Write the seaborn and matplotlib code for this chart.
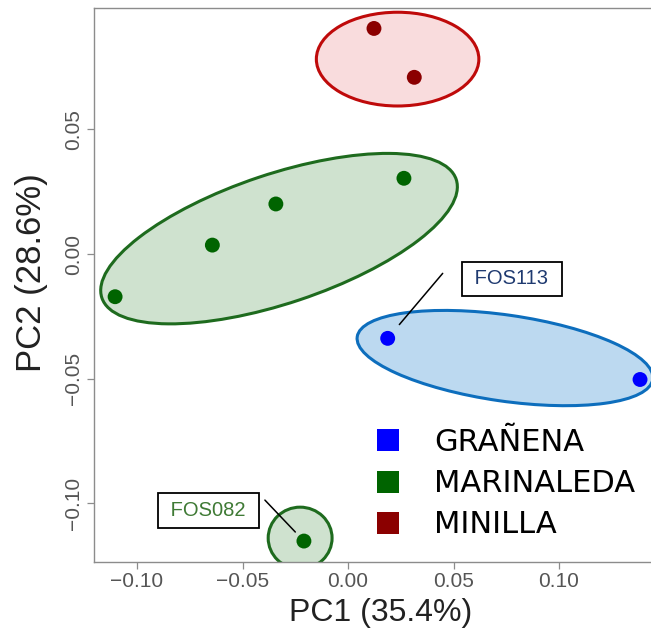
import numpy as np
import pandas as pd
import matplotlib
matplotlib.use("Agg")
import matplotlib.pyplot as plt
import matplotlib.transforms as mtransforms
from matplotlib.patches import Ellipse
from matplotlib.lines import Line2D
import seaborn as sns

# ---------------- data ----------------
sites = ["GRAÑENA", "GRAÑENA",
         "MARINALEDA", "MARINALEDA", "MARINALEDA", "MARINALEDA", "MARINALEDA",
         "MINILLA", "MINILLA"]
pc1 = [0.0188, 0.1384, -0.1104, -0.0643, -0.0342, 0.0265, -0.0209, 0.0123, 0.0314]
pc2 = [-0.0338, -0.0503, -0.0171, 0.0036, 0.0201, 0.0304, -0.1151, 0.0905, 0.0709]
sample_labels = ["FOS113", "", "", "", "", "", "FOS082", "", ""]

legend_order = ["GRAÑENA", "MARINALEDA", "MINILLA"]
x_ticks = [-0.10, -0.05, 0.00, 0.05, 0.10]
y_ticks = [-0.10, -0.05, 0.00, 0.05]

# cluster ellipses (centre in data units)
ell_site = ["MINILLA", "MARINALEDA", "GRAÑENA", "MARINALEDA"]
ell_cx = [0.0235, -0.0327, 0.0744, -0.0227]
ell_cy = [0.0782, 0.0062, -0.0417, -0.1139]

# ---------------- styles ----------------
point_col = {"GRAÑENA": "#0000ff", "MARINALEDA": "#006400", "MINILLA": "#8b0000"}
edge_col = {"GRAÑENA": "#0d6ebd", "MARINALEDA": "#1e6b1e", "MINILLA": "#bf0a0a"}
fill_col = {"GRAÑENA": "#bcd9f0", "MARINALEDA": "#cfe2cf", "MINILLA": "#f9dcdd"}
label_col = {"GRAÑENA": "#1f3a70", "MARINALEDA": "#3f7a35", "MINILLA": "#8b0000"}
ell_w_pt = [117.0, 269.0, 215.0, 46.0]
ell_h_pt = [67.5, 93.0, 62.0, 44.5]
ell_angle = [0.0, 18.5, -8.2, 0.0]
# annotation geometry (points): line far-end offset, shrink at point, label offset
ann_line = {"FOS113": (39.6, 46.8), "FOS082": (-28.1, 29.5)}
ann_shrink = {"FOS113": 13.0, "FOS082": 9.0}
ann_text = {"FOS113": (89.3, 42.8), "FOS082": (-68.9, 22.0)}

sns.set_style("white")
plt.rcParams["font.family"] = ["Liberation Sans", "DejaVu Sans"]

W, H = 651, 630
fig = plt.figure(figsize=(W / 100, H / 100), dpi=100)
ax = fig.add_axes([94 / W, 1 - 562 / H, (W - 94) / W, (562 - 8) / H])

xlim = (-0.1204, 0.1436)
ylim = (-0.1235, 0.0987)
ax.set_xlim(*xlim)
ax.set_ylim(*ylim)
ax.set_autoscale_on(False)

df = pd.DataFrame({"site": sites, "pc1": pc1, "pc2": pc2, "label": sample_labels})

# ellipses
pxpt = fig.dpi / 72.0
for s, cx, cy, w, h, a in zip(ell_site, ell_cx, ell_cy, ell_w_pt, ell_h_pt, ell_angle):
    tr = mtransforms.ScaledTranslation(cx, cy, ax.transData)
    e = Ellipse((0, 0), w * pxpt, h * pxpt, angle=a, transform=tr,
                facecolor=fill_col[s], edgecolor=edge_col[s], lw=2.2, zorder=1)
    ax.add_patch(e)

sns.scatterplot(data=df, x="pc1", y="pc2", hue="site", palette=point_col,
                s=115, edgecolor="none", linewidth=0, legend=False, zorder=3, ax=ax)

ax.set_xlim(*xlim)
ax.set_ylim(*ylim)

# sample annotations
for _, r in df[df["label"] != ""].iterrows():
    lab = r["label"]
    ax.annotate("", xy=(r["pc1"], r["pc2"]), xytext=ann_line[lab],
                textcoords="offset points",
                arrowprops=dict(arrowstyle="-", color="black", lw=1.1,
                                shrinkA=0, shrinkB=ann_shrink[lab]), zorder=4)
    ax.annotate(" " + lab + " ", xy=(r["pc1"], r["pc2"]), xytext=ann_text[lab],
                textcoords="offset points", ha="center", va="center",
                fontsize=14.5, color=label_col[r["site"]],
                bbox=dict(boxstyle="square,pad=0.38", fc="white", ec="black", lw=1.3),
                zorder=5)

# axes styling
ax.set_xticks(x_ticks)
ax.set_xticklabels([f"{v:.2f}".replace("-", "\u2212") for v in x_ticks])
ax.set_yticks(y_ticks)
ax.set_yticklabels([f"{v:.2f}".replace("-", "\u2212") for v in y_ticks],
                   rotation=90, va="center")
ax.tick_params(axis="both", direction="out", length=5, width=0.9, color="#8c8c8c",
               labelsize=15, labelcolor="#555555", bottom=True, left=True)
ax.tick_params(axis="x", pad=2)
ax.tick_params(axis="y", pad=3)
for side in ["left", "bottom", "top"]:
    ax.spines[side].set_color("#8c8c8c")
    ax.spines[side].set_linewidth(1.0)
ax.spines["right"].set_visible(False)

ax.set_xlabel("PC1 (35.4%)", fontsize=23, color="#222222")
ax.xaxis.set_label_coords((381 - 94) / (W - 94), (562 - 598) / 554)
ax.set_ylabel("PC2 (28.6%)", fontsize=25, color="#222222")
ax.yaxis.set_label_coords((48 - 94) / (W - 94), (562 - 272.5) / 554)

# legend
handles = [Line2D([], [], marker="s", ls="", markersize=16, markeredgewidth=0,
                  color=point_col[s]) for s in legend_order]
leg = ax.legend(handles, legend_order, loc="upper left",
                bbox_to_anchor=((373 - 94) / (W - 94), (562 - 428) / 554),
                frameon=False, borderaxespad=0, borderpad=0,
                handlelength=1.0, handletextpad=1.0, labelspacing=0.40,
                prop={"family": "DejaVu Sans", "size": 22})
for t in leg.get_texts():
    t.set_color("black")

fig.savefig("out.png", dpi=100)
